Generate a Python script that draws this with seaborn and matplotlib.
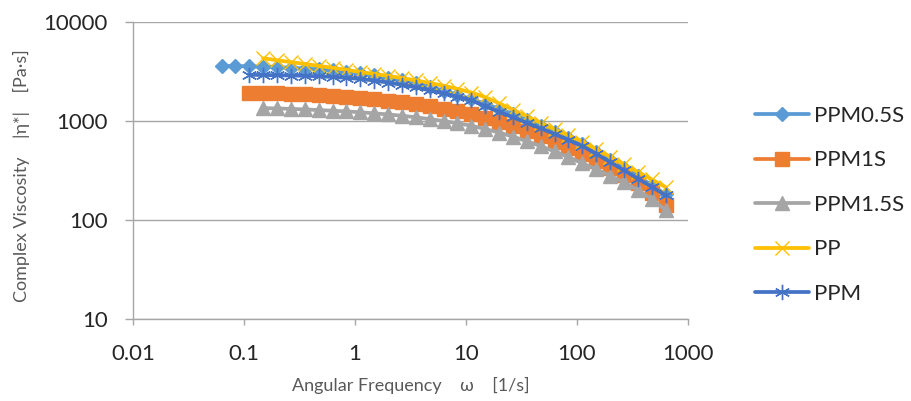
import pandas as pd
import seaborn as sns
import matplotlib.pyplot as plt

# angular frequency grid [1/s], 8 points per decade
freq = [0.0628, 0.0838, 0.1117, 0.1489, 0.1986, 0.2649, 0.3532, 0.4710,
        0.628, 0.838, 1.117, 1.489, 1.986, 2.649, 3.532, 4.710,
        6.28, 8.38, 11.17, 14.89, 19.86, 26.49, 35.32, 47.10,
        62.8, 83.8, 111.7, 148.9, 198.6, 264.9, 353.2, 471.0, 628.0]

# complex viscosity [Pa.s]; every series ends at the last frequency
ppm05s = [3600, 3590, 3570, 3540, 3500, 3450, 3390, 3320, 3240, 3150, 3050,
          2910, 2750, 2580, 2400, 2215, 2030, 1845, 1665, 1490, 1330, 1170,
          1025, 895, 780, 675, 580, 490, 408, 337, 277, 225, 182]
ppm1s = [1930, 1915, 1900, 1880, 1855, 1825, 1790, 1750, 1705, 1655, 1600,
         1540, 1475, 1405, 1330, 1255, 1170, 1075, 980, 885, 790, 700, 615,
         535, 462, 395, 335, 282, 236, 188, 142]
ppm15s = [1350, 1340, 1325, 1310, 1290, 1270, 1250, 1225, 1195, 1165, 1130,
          1090, 1045, 1000, 950, 895, 830, 765, 695, 625, 557, 493, 432, 375,
          325, 280, 240, 200, 163, 126]
pp = [4300, 4110, 3935, 3765, 3605, 3445, 3290, 3120, 2990, 2855, 2715,
      2570, 2420, 2270, 2110, 1940, 1740, 1510, 1300, 1115, 960, 825, 715,
      620, 520, 436, 365, 306, 257, 215]
ppm = [2925, 2915, 2900, 2880, 2860, 2830, 2785, 2730, 2660, 2560, 2445,
       2320, 2185, 2040, 1900, 1760, 1615, 1415, 1240, 1090, 958, 842, 740,
       645, 560, 466, 385, 318, 262, 216, 178]

series_names = ["PPM0.5S", "PPM1S", "PPM1.5S", "PP", "PPM"]
series_values = [ppm05s, ppm1s, ppm15s, pp, ppm]
colors = ["#5B9BD5", "#ED7D31", "#A5A5A5", "#FFC000", "#4472C4"]
markers = ["D", "s", "^", "x", (6, 2, 0)]
marker_sizes = [7, 9.5, 10, 10, 11]

x_ticks = [0.01, 0.1, 1, 10, 100, 1000]
x_tick_labels = ["0.01", "0.1", "1", "10", "100", "1000"]
y_ticks = [10, 100, 1000, 10000]
y_tick_labels = ["10", "100", "1000", "10000"]

sns.set_theme(style="white")
plt.rcParams["font.family"] = ["Lato", "DejaVu Sans"]

fig, ax = plt.subplots(figsize=(9.11, 4.01), dpi=100)
fig.subplots_adjust(left=133 / 911, right=688 / 911, top=1 - 22 / 401, bottom=1 - 319 / 401)

for name, vals, col, mk, ms in zip(series_names, series_values, colors, markers, marker_sizes):
    df = pd.DataFrame({"freq": freq[len(freq) - len(vals):], "eta": vals})
    sns.lineplot(data=df, x="freq", y="eta", ax=ax, color=col, lw=2.7,
                 marker=mk, markersize=ms, markeredgecolor=col,
                 markeredgewidth=1.0, estimator=None, sort=False, label=name)

ax.set_xscale("log")
ax.set_yscale("log")
ax.set_xlim(0.01, 1000)
ax.set_ylim(10, 10000)
ax.set_xticks(x_ticks)
ax.set_xticklabels(x_tick_labels)
ax.set_yticks(y_ticks)
ax.set_yticklabels(y_tick_labels)
ax.minorticks_off()

grid_col = "#a6a6a6"
ax.grid(axis="y", color=grid_col, lw=1.0)
ax.grid(axis="x", visible=False)
for side in ["top", "right"]:
    ax.spines[side].set_visible(False)
for side in ["left", "bottom"]:
    ax.spines[side].set_color(grid_col)
    ax.spines[side].set_linewidth(1.0)
ax.tick_params(axis="y", length=6, width=1.0, color=grid_col, pad=12, labelsize=16, left=True)
ax.tick_params(axis="x", length=4, width=1.0, color=grid_col, pad=14, labelsize=16, bottom=True)

ax.set_xlabel("Angular Frequency    ω    [1/s]", fontsize=13, color="#595959", labelpad=9)
ax.set_ylabel("")
fig.text(21 / 911, 1 - 176 / 401, "Complex Viscosity    |η*|    [Pa·s]", fontsize=13,
         color="#595959", rotation=90, ha="center", va="center")

handles, labels = ax.get_legend_handles_labels()
ax.get_legend().remove()
fig.legend(handles, labels, loc="upper left", bbox_to_anchor=(755 / 911, 1 - 106 / 401),
           frameon=False, fontsize=16, handlelength=2.45, handletextpad=0.2,
           labelspacing=1.1, borderpad=0, borderaxespad=0)

fig.savefig("out.png", dpi=100)
